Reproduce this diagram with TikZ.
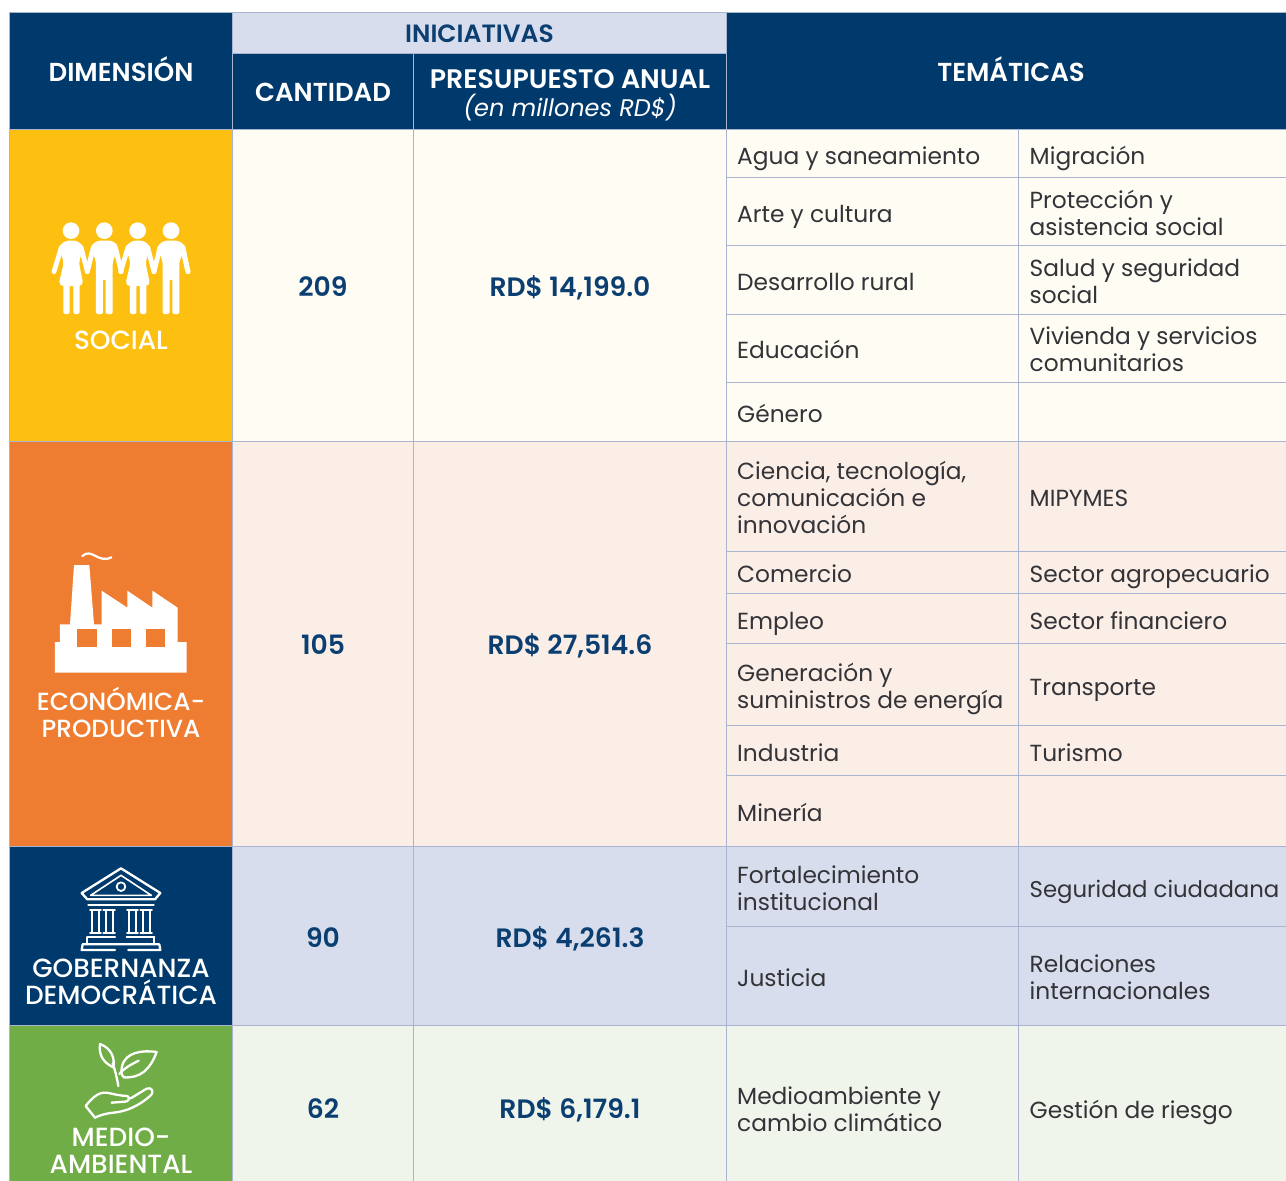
\documentclass[tikz,border=0pt]{standalone}
\usepackage{fontspec}
\setmainfont{Poppins}[BoldFont=* SemiBold]
\newfontfamily\medfont{Poppins Medium}
\definecolor{navy}{HTML}{003A6C}
\definecolor{numc}{HTML}{0B3F72}
\definecolor{txtc}{HTML}{333338}
\definecolor{gridc}{HTML}{A8B4D0}
\definecolor{yel}{HTML}{FDC010}
\definecolor{ora}{HTML}{EE7D31}
\definecolor{gre}{HTML}{70AD47}
\definecolor{lyel}{HTML}{FFFCF4}
\definecolor{lora}{HTML}{FBEEE6}
\definecolor{lblu}{HTML}{D7DDEC}
\definecolor{lgre}{HTML}{F0F5EC}
\tikzset{
 x=1pt,y=-1pt,
 cell/.style={draw=gridc,line width=0.9pt},
 rule/.style={draw=gridc,line width=0.9pt},
 txt/.style={inner sep=0pt,align=left,anchor=west,text=txtc,yshift=-3.8pt,font=\fontsize{23.3}{26.8}\selectfont,execute at begin node=\strut,execute at end node=\strut},
 head/.style={inner sep=0pt,align=center,text=white,font=\fontsize{26}{28}\selectfont\bfseries},
 num/.style={inner sep=0pt,align=center,text=numc,font=\fontsize{26.6}{27}\selectfont\bfseries},
 dim/.style={inner sep=0pt,align=center,text=white,font=\fontsize{26.3}{26.8}\selectfont\medfont},
 icon/.style={draw=white,line width=2.3pt,line cap=round,line join=round},
 zoomed/.style={x=0.33333pt,y=-0.33333pt},
}
\begin{document}
\begin{tikzpicture}
\useasboundingbox (0,0) rectangle (1286,1181);
\fill[white] (0,0) rectangle (1286,1181);
% row fills
\path[cell,fill=lyel] (232.5,129.5) rectangle (1287,441);
\path[cell,fill=lora] (232.5,441) rectangle (1287,846);
\path[cell,fill=lblu] (232.5,846) rectangle (1287,1025.5);
\path[cell,fill=lgre] (232.5,1025.5) rectangle (1287,1182);
% dimension column
\path[cell,fill=yel] (9.5,129.5) rectangle (232.5,441);
\path[cell,fill=ora] (9.5,441) rectangle (232.5,846);
\path[cell,fill=navy] (9.5,846) rectangle (232.5,1025.5);
\path[cell,fill=gre] (9.5,1025.5) rectangle (232.5,1182);
% header
\path[cell,fill=navy] (9.5,12) rectangle (232.5,129.5);
\path[cell,fill=lblu] (232.5,12) rectangle (726,53);
\path[cell,fill=navy] (232.5,53) rectangle (413.5,129.5);
\path[cell,fill=navy] (413.5,53) rectangle (726,129.5);
\path[cell,fill=navy] (726,12) rectangle (1287,129.5);
% vertical rules
\draw[rule] (413.5,129.5) -- (413.5,1182);
\draw[rule] (726,129.5) -- (726,1182);
\draw[rule] (1018,129.5) -- (1018,1182);
% horizontal rules
\foreach \y in {177,245.5,314,382,551,593,643.5,725.5,775,926}
  \draw[rule] (726,\y) -- (1286,\y);
% header text
\node[head] (hdim) at (121,69.5) {DIMENSIÓN};
\node[head,text=numc,font=\fontsize{25}{27}\selectfont\bfseries] (hini) at (479.5,34) {INICIATIVAS};
\node[head] (hcant) at (323,92) {CANTIDAD};
\node[head,font=\fontsize{26.8}{28}\selectfont\bfseries] (hpres) at (570,95.5) {PRESUPUESTO ANUAL\\{\fontsize{24}{28}\selectfont\mdseries\itshape (en millones RD\$)}};
\node[head] (htem) at (1011,69.5) {TEMÁTICAS};
% numbers
\node[num] (n1) at (323,287) {209};
\node[num] (p1) at (570,287.5) {RD\$ 14,199.0};
\node[num] (n2) at (323,645) {105};
\node[num] (p2) at (570,645.5) {RD\$ 27,514.6};
\node[num] (n3) at (323,938) {90};
\node[num] (p3) at (570,938.5) {RD\$ 4,261.3};
\node[num] (n4) at (323,1109) {62};
\node[num] (p4) at (570,1109.5) {RD\$ 6,179.1};
% dimension labels
\node[dim] (d1) at (121,340.5) {SOCIAL};
\node[dim,font=\fontsize{24.8}{26.8}\selectfont\medfont] (d2) at (121,712.5) {ECONÓMICA-\\PRODUCTIVA};
\node[dim] (d3) at (121,982) {GOBERNANZA\\DEMOCRÁTICA};
\node[dim] (d4) at (121,1150.5) {MEDIO-\\AMBIENTAL};
% tematicas left
\node[txt] (a1) at (737,155) {Agua y saneamiento};
\node[txt] (a2) at (737,213) {Arte y cultura};
\node[txt] (a3) at (737,281) {Desarrollo rural};
\node[txt] (a4) at (737,349) {Educación};
\node[txt] (a5) at (737,413) {Género};
\node[txt] (a6) at (737,497.5) {Ciencia, tecnología,\\comunicación e\\innovación};
\node[txt] (a7) at (737,573) {Comercio};
\node[txt] (a8) at (737,620) {Empleo};
\node[txt] (a9) at (737,686) {Generación y\\suministros de energía};
\node[txt] (a10) at (737,752) {Industria};
\node[txt] (a11) at (737,812) {Minería};
\node[txt] (a12) at (737,888) {Fortalecimiento\\institucional};
\node[txt] (a13) at (737,977) {Justicia};
\node[txt] (a14) at (737,1109) {Medioambiente y\\cambio climático};
% tematicas right
\node[txt] (b1) at (1029.5,155) {Migración};
\node[txt] (b2) at (1029.5,213) {Protección y\\asistencia social};
\node[txt] (b3) at (1029.5,281) {Salud y seguridad\\social};
\node[txt] (b4) at (1029.5,349) {Vivienda y servicios\\comunitarios};
\node[txt] (b6) at (1029.5,497) {MIPYMES};
\node[txt] (b7) at (1029.5,573) {Sector agropecuario};
\node[txt] (b8) at (1029.5,620) {Sector financiero};
\node[txt] (b9) at (1029.5,686) {Transporte};
\node[txt] (b10) at (1029.5,752) {Turismo};
\node[txt,font=\fontsize{22.8}{26.8}\selectfont] (b12) at (1029.5,888) {Seguridad ciudadana};
\node[txt] (b13) at (1029.5,977.5) {Relaciones\\internacionales};
\node[txt] (b14) at (1029.5,1109) {Gestión de riesgo};
% people icon
\begin{scope}[shift={(0,190)},zoomed]
\foreach \c in {0,200}{
 \begin{scope}[shift={(\c,0)}]
 \fill[white] (213,122) circle (25);
 \fill[white] (313,122) circle (25);
 \draw[white,line width=4.8pt,line cap=round,line join=round] (184,172) -- (162,245);
 \draw[white,line width=4.8pt,line cap=round,line join=round] (243,172) -- (262,245);
 \fill[white,rounded corners=5pt] (176,175) -- (190,152) -- (236,152) -- (252,175) -- (236,215) -- (251,288) -- (175,288) -- (192,215) -- cycle;
 \fill[white,rounded corners=1.5pt] (190,280) rectangle (209,372);
 \fill[white,rounded corners=1.5pt] (220,280) rectangle (239,372);
 \fill[white,rounded corners=5pt] (270,175) -- (285,152) -- (342,152) -- (358,175) -- (338,210) -- (338,270) -- (288,270) -- (288,210) -- cycle;
 \fill[white,rounded corners=1.5pt] (288,255) rectangle (309,372);
 \fill[white,rounded corners=1.5pt] (317,255) rectangle (338,372);
 \fill[white] (309,250) rectangle (317,258);
 \draw[white,line width=4.8pt,line cap=round,line join=round] (346,172) -- (364,245);
 \draw[white,line width=4.8pt,line cap=round,line join=round] (280,172) -- (262,245);
 \end{scope}}
 \draw[white,line width=4.8pt,line cap=round] (549,172) -- (564,245);
\end{scope}
% factory icon
\begin{scope}[shift={(0,540)},zoomed]
 \fill[white] (165,398) -- (165,306) -- (180,306) -- (180,253) -- (210,253) -- (222,75) -- (268,75) -- (282,253) -- (305,253) -- (305,152) -- (382,203) -- (382,152) -- (457,203) -- (457,152) -- (533,203) -- (533,306) -- (560,306) -- (560,398) -- cycle;
 \fill[ora] (232,268) rectangle (290,320);
 \fill[ora] (335,268) rectangle (392,320);
 \fill[ora] (437,268) rectangle (495,320);
 \draw[white,line width=2.2pt,line cap=round] (247,48) .. controls (275,22) and (295,72) .. (334,52);
\end{scope}
% plant icon
\begin{scope}[shift={(0,850)},zoomed]
 \draw[icon] (355,708) .. controls (350,680) and (345,660) .. (338,640);
 \draw[icon] (300,582) .. controls (335,595) and (345,625) .. (340,652) .. controls (315,640) and (295,620) .. (300,582) -- cycle;
 \draw[icon] (470,606) .. controls (430,600) and (375,605) .. (366,650) .. controls (362,665) and (365,678) .. (372,682) .. controls (420,685) and (450,660) .. (470,606) -- cycle;
 \draw[icon] (358,672) .. controls (372,655) and (390,645) .. (416,632);
 \draw[icon] (285,803) -- (257,768) .. controls (275,745) and (295,725) .. (320,728) .. controls (345,733) and (365,738) .. (382,738) .. controls (392,745) and (385,755) .. (375,755) -- (335,758);
 \draw[icon] (392,745) -- (440,716) .. controls (455,710) and (465,725) .. (450,738) .. controls (420,765) and (380,785) .. (340,788) .. controls (320,790) and (300,795) .. (285,803);
\end{scope}
% building icon
\begin{scope}[shift={(0,850)},zoomed]
 \draw[icon] (245,129) -- (363,55) -- (481,129) -- (465,148) -- (262,148) -- cycle;
 \draw[icon,line width=1.6pt] (272,136) -- (363,76) -- (454,136) -- cycle;
 \draw[icon,line width=1.8pt] (363,110) circle (13);
 \draw[icon] (265,165) -- (461,165);
 \foreach \a/\b in {270/303,310/345,381/414,421/456}{
  \draw[icon,line width=1.8pt] (\a,180) -- (\b,180);
  \draw[icon,line width=1.8pt] (\a,250) -- (\b,250);
  \draw[icon,line width=2pt] (\a+7,180) -- (\a+7,250);
  \draw[icon,line width=2pt] (\b-7,180) -- (\b-7,250);
 }
 \draw[icon] (262,262) -- (345,262);
 \draw[icon] (380,262) -- (463,262);
 \draw[icon] (262,262) -- (262,283);
 \draw[icon] (463,262) -- (463,283);
 \draw[icon] (248,283) -- (478,283) -- (481,300) -- (385,300);
 \draw[icon] (345,300) -- (245,300) -- (248,283);
\end{scope}
\end{tikzpicture}
\end{document}
